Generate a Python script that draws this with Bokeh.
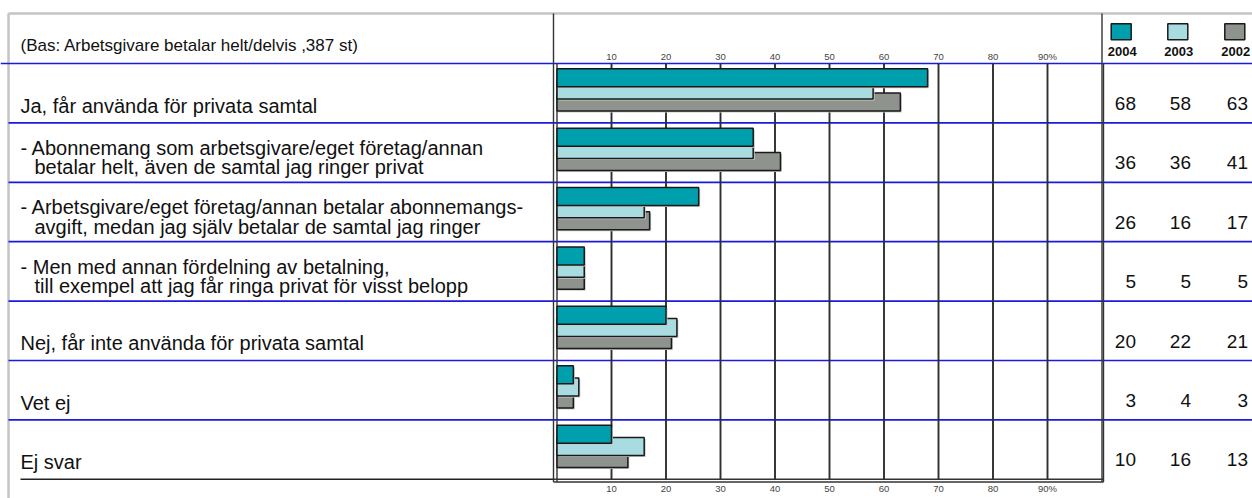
from bokeh.plotting import figure
from bokeh.models import Range1d
from bokeh.core.properties import value
from bokeh.embed import file_html
from bokeh.resources import INLINE

# ---------------- data ----------------
header = "(Bas: Arbetsgivare betalar helt/delvis ,387 st)"
categories = [
    "Ja, får använda för privata samtal",
    "- Abonnemang som arbetsgivare/eget företag/annan\nbetalar helt, även de samtal jag ringer privat",
    "- Arbetsgivare/eget företag/annan betalar abonnemangs-\navgift, medan jag själv betalar de samtal jag ringer",
    "- Men med annan fördelning av betalning,\ntill exempel att jag får ringa privat för visst belopp",
    "Nej, får inte använda för privata samtal",
    "Vet ej",
    "Ej svar",
]
years = ["2004", "2003", "2002"]
v2004 = [68, 36, 26, 5, 20, 3, 10]
v2003 = [58, 36, 16, 5, 22, 4, 16]
v2002 = [63, 41, 17, 5, 21, 3, 13]
ticks = [10, 20, 30, 40, 50, 60, 70, 80, 90]
tick_labels = ["10", "20", "30", "40", "50", "60", "70", "80", "90%"]

# ---------------- styles / layout ----------------
colors = {"2004": "#009FAE", "2003": "#A8DCE0", "2002": "#8E938E"}
FONT = value("Liberation Sans")
W, H = 1252, 498
X0, XS = 556.5, 5.45      # pixel of value 0, pixels per percent
Y0, YS = 63.0, 59.4       # pixel of first row top, pixels per row


def X(px):
    return (px - X0) / XS


def Y(py):
    return (py - Y0) / YS


n = len(categories)
XMAX = 100

p = figure(width=W, height=H, x_range=Range1d(X(0), X(W)), y_range=Range1d(Y(H), Y(0)),
           toolbar_location=None, output_backend="svg", min_border=0,
           x_axis_location=None, y_axis_location=None, outline_line_color=None)
p.grid.visible = False
p.background_fill_color = "white"
p.border_fill_color = "white"

# outer gray frame
p.segment(x0=[X(8), X(8)], y0=[Y(13), Y(13)], x1=[X(W), X(8)], y1=[Y(13), Y(H)],
          line_color="#C4C4C4", line_width=2.5)

# blue row separators
rows = list(range(n))
p.segment(x0=[X(0)] + [X(8)] * (n - 1), y0=rows, x1=[X(W)] * n, y1=rows,
          line_color="#1A1AE0", line_width=1.7)
# black bottom line under labels
p.segment(x0=[X(20)], y0=[n], x1=[X(553)], y1=[n], line_color="#222222", line_width=1.6)

# vertical grid lines
p.segment(x0=ticks, y0=[0] * len(ticks), x1=ticks, y1=[n] * len(ticks),
          line_color="#2E2E2E", line_width=1.9)

# chart box lines
p.segment(x0=[X(553), 0, XMAX, X(1103), X(553), X(553)],
          y0=[Y(13), 0, Y(13), 0, n, Y(481.5)],
          x1=[X(553), 0, XMAX, X(1103), X(1103), X(1103)],
          y1=[Y(481.5), Y(481.5), Y(481.5), Y(481.5), n, Y(481.5)],
          line_color="#333333", line_width=1.4)

# bars (2002 drawn first, 2004 on top)
bar_h = 18 / YS
offsets = {"2004": 14.25 / YS, "2003": 26.5 / YS, "2002": 38.5 / YS}
series = {"2004": v2004, "2003": v2003, "2002": v2002}
for yr in ["2002", "2003", "2004"]:
    ys = [i + offsets[yr] for i in rows]
    p.hbar(y=[y + 1.5 / YS for y in ys], left=[1.5 / XS] * n,
           right=[v + 1.5 / XS for v in series[yr]], height=bar_h,
           fill_color="#C8C8C8", line_color=None)
    p.hbar(y=ys, left=0, right=series[yr], height=bar_h,
           fill_color=colors[yr], line_color="#1A1A1A", line_width=1.5)

# tick labels (top and bottom)
p.text(x=ticks, y=[Y(56)] * len(ticks), text=tick_labels, text_font=FONT,
       text_font_size="9.5px", text_color="#444444", text_align="center", text_baseline="middle")
p.text(x=ticks, y=[Y(488)] * len(ticks), text=tick_labels, text_font=FONT,
       text_font_size="9.5px", text_color="#444444", text_align="center", text_baseline="middle")

# category labels
lx, ly, lt = [], [], []
for i, c in enumerate(categories):
    parts = c.split("\n")
    if len(parts) == 1:
        lx.append(X(20)); ly.append(i + 42 / YS); lt.append(parts[0])
    else:
        lx.append(X(20)); ly.append(i + 25 / YS); lt.append(parts[0])
        lx.append(X(34)); ly.append(i + 44.5 / YS); lt.append(parts[1])
p.text(x=lx, y=ly, text=lt, text_font=FONT, text_font_size="20px",
       text_color="#111111", text_align="left", text_baseline="alphabetic")

# header
p.text(x=[X(20)], y=[Y(44.5)], text=[header], text_font=FONT, text_font_size="17px",
       text_color="#111111", text_align="left", text_baseline="alphabetic")

# value columns
col_right = {"2004": X(1135.5), "2003": X(1190.5), "2002": X(1247.5)}
for yr in years:
    p.text(x=[col_right[yr]] * n, y=[i + 40 / YS for i in rows],
           text=[str(v) for v in series[yr]], text_font=FONT, text_font_size="19px",
           text_color="#111111", text_align="right", text_baseline="alphabetic")

# legend
leg_cx = {"2004": 1120.7, "2003": 1177.3, "2002": 1234.3}
p.rect(x=[X(leg_cx[yr]) for yr in years], y=[Y(31.3)] * 3, width=20 / XS, height=16 / YS,
       fill_color=[colors[yr] for yr in years], line_color="#1A1A1A", line_width=1.5)
p.text(x=[X(leg_cx[yr] + 1) for yr in years], y=[Y(50.5)] * 3, text=years,
       text_font=FONT, text_font_style="bold", text_font_size="13px",
       text_color="#111111", text_align="center", text_baseline="middle")

open("out.html", "w").write(file_html(p, INLINE))
